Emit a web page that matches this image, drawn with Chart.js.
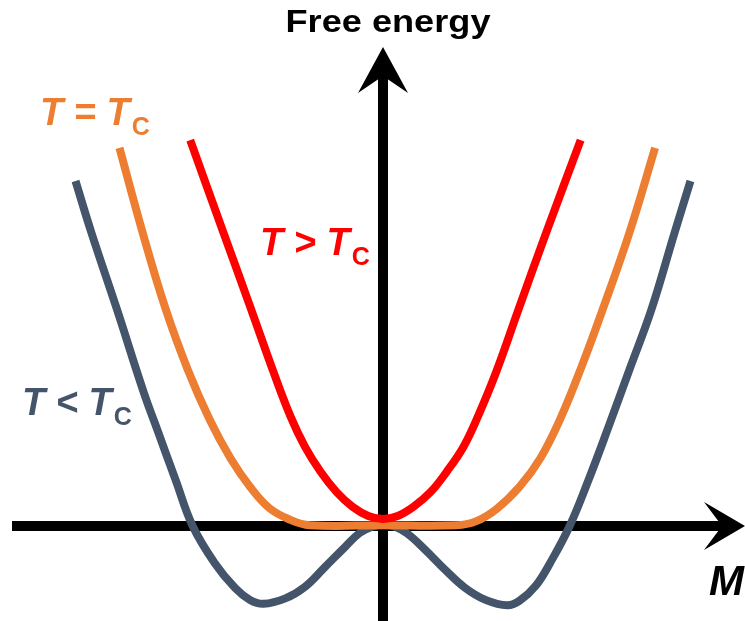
<!DOCTYPE html>
<html>
<head>
<meta charset="utf-8">
<title>Free energy</title>
<script src="https://cdn.jsdelivr.net/npm/chart.js@4.4.1/dist/chart.umd.min.js"></script>
<style>
  html, body { margin: 0; padding: 0; background: #fff; }
  #wrap { position: relative; width: 745px; height: 621px; }
</style>
</head>
<body>
<div id="wrap"><canvas id="myChart"></canvas></div>
<script>
const ctx = document.getElementById('myChart').getContext('2d');

// magnetisation M and free energy F, sampled along each curve
const aboveM = [-1.58, -1.31, -1.08, -0.90, -0.76, -0.64, -0.51, -0.38, -0.25, -0.12, 0,
                0.12, 0.25, 0.39, 0.52, 0.66, 0.78, 0.93, 1.11, 1.34, 1.62];
const aboveF = [5.01, 3.82, 2.81, 2.01, 1.43, 1.03, 0.70, 0.44, 0.25, 0.13, 0.09,
                0.13, 0.25, 0.44, 0.70, 1.03, 1.43, 2.01, 2.81, 3.82, 5.01];

const criticalM = [-2.16, -1.97, -1.78, -1.60, -1.42, -1.25, -1.09, -0.93, -0.76, -0.60, 0,
                   0.60, 0.76, 0.93, 1.12, 1.29, 1.45, 1.63, 1.80, 2.02, 2.23];
const criticalF = [4.91, 3.81, 2.81, 2.03, 1.38, 0.88, 0.51, 0.23, 0.08, 0.01, 0.01,
                   0.01, 0.06, 0.22, 0.51, 0.88, 1.38, 2.08, 2.81, 3.81, 4.91];

const belowM = [-2.52, -2.39, -2.18, -1.96, -1.85, -1.70, -1.56, -1.38, -1.21, -1.09, -0.98,
                -0.80, -0.64, -0.48, -0.31, -0.19, -0.09, 0, 0.10, 0.20, 0.34, 0.51, 0.67,
                0.84, 1.02, 1.12, 1.25, 1.37, 1.53, 1.69, 1.84, 2.02, 2.20, 2.39, 2.52];
const belowF = [4.48, 3.81, 2.81, 1.73, 1.25, 0.60, 0, -0.48, -0.81, -0.96, -1.01,
                -0.94, -0.79, -0.54, -0.27, -0.09, -0.01, 0.02, -0.01, -0.10, -0.30, -0.57, -0.80,
                -0.96, -1.03, -0.97, -0.78, -0.48, 0, 0.62, 1.25, 2.03, 2.81, 3.81, 4.48];

const curveLabels = ['T > T', 'T = T', 'T < T'];
const subscript = 'C';
const axisTitles = ['Free energy', 'M'];

const colors = ['#ff0000', '#ed7d31', '#44546a'];

const toPoints = (xs, ys) => xs.map((x, i) => ({ x: x, y: ys[i] }));

// arrow heads + axis lines through the origin
const axesPlugin = {
    id: 'axes',
    beforeDatasetsDraw(chart) {
        const c = chart.ctx;
        const xs = chart.scales.x, ys = chart.scales.y;
        const ox = xs.getPixelForValue(0);
        const oy = ys.getPixelForValue(0);
        c.save();
        c.fillStyle = '#000';
        c.strokeStyle = '#000';
        c.lineWidth = 10;
        // horizontal
        c.beginPath();
        c.moveTo(12, oy);
        c.lineTo(728, oy);
        c.stroke();
        c.beginPath();
        c.moveTo(745, oy);
        c.lineTo(704, oy - 24);
        c.lineTo(722, oy);
        c.lineTo(704, oy + 24);
        c.closePath();
        c.fill();
        // vertical
        c.beginPath();
        c.moveTo(ox, chart.height);
        c.lineTo(ox, 72);
        c.stroke();
        c.beginPath();
        c.moveTo(ox, 47);
        c.lineTo(ox + 25, 93);
        c.lineTo(ox, 76);
        c.lineTo(ox - 25, 93);
        c.closePath();
        c.fill();
        c.restore();
    },
    afterDraw(chart) {
        const c = chart.ctx;
        const xs = chart.scales.x, ys = chart.scales.y;
        const spots = [[-1.008, 3.519], [-2.811, 5.208], [-2.959, 1.442]];
        c.save();
        c.textBaseline = 'alphabetic';
        curveLabels.forEach((txt, i) => {
            const px = xs.getPixelForValue(spots[i][0]);
            const py = ys.getPixelForValue(spots[i][1]);
            c.fillStyle = colors[i];
            c.font = 'italic bold 38px "Liberation Sans", Arial, sans-serif';
            c.textAlign = 'left';
            c.fillText(txt, px, py);
            const w = c.measureText(txt).width;
            c.font = 'bold 25px "Liberation Sans", Arial, sans-serif';
            c.fillText(subscript, px + w + 2, py + 10);
        });

        // y title, a little wider than the font's own width
        c.fillStyle = '#000';
        c.font = 'bold 31px "Liberation Sans", Arial, sans-serif';
        c.textAlign = 'center';
        const tw = c.measureText(axisTitles[0]).width;
        c.save();
        c.translate(388, 32);
        c.scale(205 / tw, 1);
        c.fillText(axisTitles[0], 0, 0);
        c.restore();

        c.font = 'italic bold 42px "Liberation Sans", Arial, sans-serif';
        c.textAlign = 'right';
        c.fillText(axisTitles[1], 744, 595);
        c.restore();
    }
};

const data = {
    datasets: [
        {
            label: curveLabels[0],
            data: toPoints(aboveM, aboveF),
            borderColor: colors[0],
        },
        {
            label: curveLabels[1],
            data: toPoints(criticalM, criticalF),
            borderColor: colors[1],
        },
        {
            label: curveLabels[2],
            data: toPoints(belowM, belowF),
            borderColor: colors[2],
        },
    ],
};

const config = {
    type: 'line',
    data: data,
    options: {
        responsive: true,
        maintainAspectRatio: false,
        animation: false,
        layout: { padding: 0 },
        elements: {
            point: { radius: 0, hitRadius: 0 },
            line: {
                borderWidth: 8,
                tension: 0.4,
                borderCapStyle: 'butt',
                borderJoinStyle: 'round',
                fill: false,
            },
        },
        plugins: {
            legend: { display: false },
            tooltip: { enabled: false },
        },
        scales: {
            x: {
                type: 'linear',
                display: false,
                min: -3.139,
                max: 2.967,
            },
            y: {
                type: 'linear',
                display: false,
                min: -1.234,
                max: 6.831,
            },
        },
    },
    plugins: [axesPlugin],
};

const myChart = new Chart(ctx, config);
</script>
</body>
</html>
